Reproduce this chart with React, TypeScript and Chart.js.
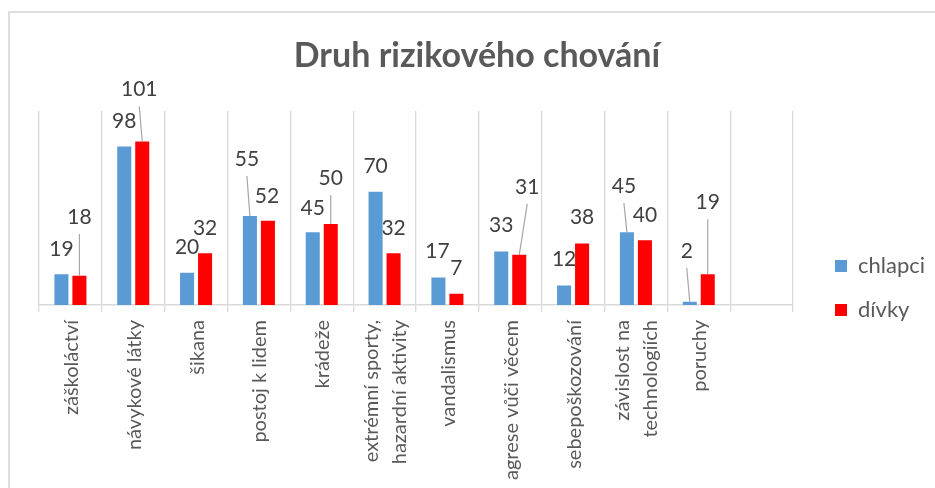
import React, { useEffect, useRef } from 'react';
import { Chart, registerables } from 'chart.js';

Chart.register(...registerables);

// ---------- data ----------
const chartTitle = 'Druh rizikového chování';
const categories: (string | string[])[] = [
  'záškoláctví',
  'návykové látky',
  'šikana',
  'postoj k lidem',
  'krádeže',
  ['extrémní sporty,', 'hazardní aktivity'],
  'vandalismus',
  'agrese vůči věcem',
  'sebepoškozování',
  ['závislost na', 'technologiích'],
  'poruchy',
  '',
];
const seriesNames = ['chlapci', 'dívky'];
const chlapci = [19, 98, 20, 55, 45, 70, 17, 33, 12, 45, 2];
const divky = [18, 101, 32, 52, 50, 32, 7, 31, 38, 40, 19];
const yMin = 0;
const yMax = 120;

// ---------- styling ----------
const BLUE = '#5B9BD5';
const RED = '#FF0000';
const GRID = '#d9d9d9';
const TEXT = '#595959';
const LABEL = '#404040';
const FONT = 'Lato';
const TICK_SIZE = 20;
const TICK_LH = 1.4;

// value label placement relative to the top centre of its bar: [dx, rise, leader line]
const chlapciLabelShift: [number, number, boolean][] = [
  [0, 25, false], [0, 25, false], [0, 25, false], [-3, 57, true], [0, 24, false], [0, 25, false],
  [-1, 26, false], [0, 26, false], [0, 26, false], [-3, 46, true], [-3, 51, true],
];
const divkyLabelShift: [number, number, boolean][] = [
  [0, 59, true], [-3, 52, true], [0, 25, false], [-1, 25, false], [0, 46, true], [0, 25, false],
  [0, 25, false], [8, 68, true], [0, 26, false], [0, 25, false], [0, 72, true],
];

const CANVAS_W = 925;
const CANVAS_H = 550;
const PLOT_RIGHT = 783;

const valueLabelPlugin = {
  id: 'valueLabels',
  beforeDraw(chart: any) {
    // centre multi-line rotated category labels on their tick
    const xs = chart.scales.x;
    if (!xs || typeof xs.getLabelItems !== 'function') return;
    const items = xs.getLabelItems();
    const lh = TICK_SIZE * TICK_LH;
    items.forEach((it: any) => {
      if (Array.isArray(it.label) && it.label.length > 1 && it.options && it.options.translation && !it._centred) {
        it.options.translation[0] -= ((it.label.length - 1) * lh) / 2;
        it._centred = true;
      }
    });
  },
  afterDatasetsDraw(chart: any) {
    const ctx = chart.ctx;
    const shifts = [chlapciLabelShift, divkyLabelShift];
    ctx.save();
    ctx.font = `21px ${FONT}`;
    ctx.textAlign = 'center';
    ctx.textBaseline = 'middle';
    chart.data.datasets.forEach((ds: any, di: number) => {
      const meta = chart.getDatasetMeta(di);
      meta.data.forEach((bar: any, i: number) => {
        const v = ds.data[i];
        if (v == null) return;
        const [dx, rise, leader] = shifts[di][i];
        const lx = bar.x + dx;
        const ly = bar.y - rise;
        if (leader) {
          ctx.strokeStyle = '#a6a6a6';
          ctx.lineWidth = 1.2;
          ctx.beginPath();
          ctx.moveTo(lx, ly + 17);
          ctx.lineTo(bar.x, bar.y);
          ctx.stroke();
        }
        ctx.fillStyle = LABEL;
        ctx.fillText(String(v), lx, ly);
      });
    });
    ctx.restore();
  },
};

export default function App() {
  const ref = useRef<HTMLCanvasElement | null>(null);

  useEffect(() => {
    if (!ref.current) return;
    const chart = new Chart(ref.current, {
      type: 'bar',
      data: {
        labels: categories,
        datasets: [
          {
            label: seriesNames[0],
            data: chlapci,
            backgroundColor: BLUE,
            categoryPercentage: 0.573,
            barPercentage: 0.78,
          },
          {
            label: seriesNames[1],
            data: divky,
            backgroundColor: RED,
            categoryPercentage: 0.573,
            barPercentage: 0.78,
          },
        ],
      },
      options: {
        responsive: false,
        animation: false,
        devicePixelRatio: 1,
        layout: { padding: { left: 9, right: 0, top: 0, bottom: 0 } },
        plugins: {
          title: {
            display: true,
            text: chartTitle,
            color: TEXT,
            font: { family: FONT, size: 34, weight: 'bold', lineHeight: 1.2 },
            padding: { top: 23, bottom: 34 },
          },
          legend: {
            position: 'right',
            align: 'center',
            labels: {
              boxWidth: 12,
              boxHeight: 12,
              padding: 22,
              color: TEXT,
              font: { family: FONT, size: 22 },
            },
          },
          tooltip: { enabled: false },
        },
        scales: {
          x: {
            offset: true,
            grid: { offset: true, color: GRID, lineWidth: 1.3, tickLength: 7, drawTicks: true },
            border: { display: true, color: GRID, width: 1.5 },
            ticks: {
              color: TEXT,
              font: { family: FONT, size: TICK_SIZE, lineHeight: TICK_LH },
              minRotation: 90,
              maxRotation: 90,
              autoSkip: false,
              padding: 8,
              labelOffset: 1,
            },
            afterFit: (s: any) => {
              s.height = 258;
            },
          },
          y: {
            min: yMin,
            max: yMax,
            display: true,
            grid: { display: false },
            border: { display: false },
            ticks: { display: false },
            afterFit: (s: any) => {
              s.width = 20;
            },
          },
          y2: {
            position: 'right',
            display: true,
            grid: { display: false },
            border: { display: false },
            ticks: { display: false },
            afterFit: (s: any) => {
              const lg = s.chart.legend;
              const lw = lg ? lg.width : 121;
              s.width = Math.max(0, CANVAS_W - lw - PLOT_RIGHT);
            },
          },
        },
      } as any,
      plugins: [valueLabelPlugin],
    });
    return () => chart.destroy();
  }, []);

  return (
    <div
      style={{
        position: 'absolute',
        left: 8,
        top: 11,
        width: CANVAS_W,
        height: 475,
        borderLeft: '2px solid #dedede',
        borderTop: '2px solid #dedede',
        overflow: 'hidden',
        background: '#fff',
      }}
    >
      <canvas ref={ref} width={CANVAS_W} height={CANVAS_H} style={{ display: 'block' }} />
    </div>
  );
}
